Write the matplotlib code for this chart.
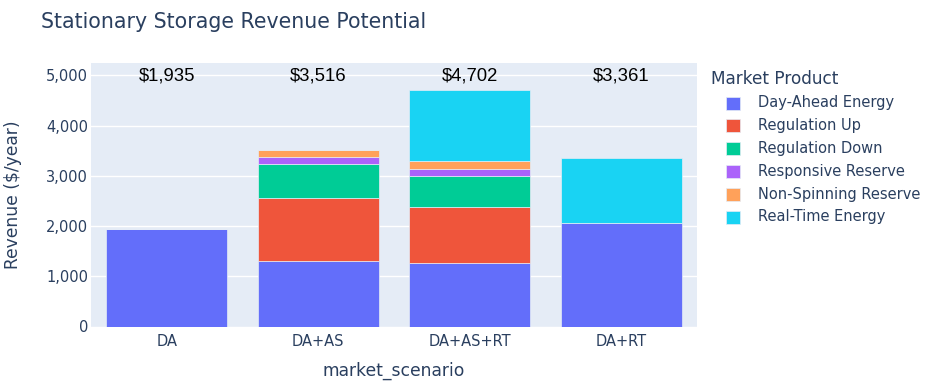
import matplotlib
matplotlib.use("Agg")
import matplotlib.pyplot as plt
from matplotlib.patches import Rectangle
import numpy as np

scenarios = ["DA", "DA+AS", "DA+AS+RT", "DA+RT"]
products = ["Day-Ahead Energy", "Regulation Up", "Regulation Down",
            "Responsive Reserve", "Non-Spinning Reserve", "Real-Time Energy"]
day_ahead = [1935, 1310, 1255, 2050]
reg_up = [0, 1240, 1115, 0]
reg_down = [0, 690, 630, 0]
resp_reserve = [0, 140, 140, 0]
non_spin = [0, 136, 146, 0]
real_time = [0, 0, 1416, 1311]
totals = [1935, 3516, 4702, 3361]
colors = ["#636efa", "#EF553B", "#00cc96", "#ab63fa", "#FFA15A", "#19d3f3"]

series = [day_ahead, reg_up, reg_down, resp_reserve, non_spin, real_time]

font = "DejaVu Sans"
txt = "#2a3f5f"
W, H = 932, 392

fig = plt.figure(figsize=(W/100, H/100), dpi=100)
ax = fig.add_axes([91/W, 1 - 326.5/H, (697-91)/W, (326.5-62.7)/H])
ax.set_facecolor("#E5ECF6")

x = np.arange(len(scenarios))
bottom = np.zeros(len(scenarios))
for name, vals, c in zip(products, series, colors):
    v = np.array(vals, dtype=float)
    ax.bar(x, v, width=0.8, bottom=bottom, color=c, edgecolor="#E5ECF6",
           linewidth=0.5, label=name, zorder=3)
    bottom += v

for xi, t in zip(x, totals):
    ax.text(xi, 4990, f"${t:,}", ha="center", va="center",
            fontsize=13.3, family="Liberation Sans", color="black", zorder=4)

ax.set_xlim(-0.5, 3.5)
ax.set_ylim(0, 5250)
yt = [0, 1000, 2000, 3000, 4000, 5000]
ax.set_yticks(yt)
ax.set_yticklabels([f"{v:,}" for v in yt])
ax.set_xticks(x)
ax.set_xticklabels(scenarios)
ax.grid(axis="y", color="white", linewidth=1, zorder=0)
for s in ax.spines.values():
    s.set_visible(False)
ax.tick_params(length=0, labelsize=10.5, labelcolor=txt)
ax.tick_params(axis="x", pad=5.5)
ax.tick_params(axis="y", pad=2)
for lab in ax.get_xticklabels() + ax.get_yticklabels():
    lab.set_family(font)

ax.set_xlabel("market_scenario", fontsize=12.3, family=font, color=txt, labelpad=9)
ax.set_ylabel("Revenue ($/year)", fontsize=12.3, family=font, color=txt, labelpad=17)

fig.text(41/W, 1 - 22/H, "Stationary Storage Revenue Potential",
         fontsize=14.8, family=font, color=txt, ha="left", va="center")

# legend (drawn manually to match layout)
fig.text(711/W, 1 - 79/H, "Market Product", fontsize=12.2, family=font,
         color=txt, ha="left", va="center")
for i, (name, c) in enumerate(zip(products, colors)):
    yc = 103 + i * 22.8
    fig.patches.append(Rectangle((726/W, 1 - (yc + 6.5)/H), 14/W, 13/H,
                                 facecolor=c, edgecolor="#E5ECF6", linewidth=0.5,
                                 transform=fig.transFigure, figure=fig))
    fig.text(758/W, 1 - yc/H, name, fontsize=10.5, family=font, color=txt,
             ha="left", va="center")

fig.savefig("out.png", dpi=100)
